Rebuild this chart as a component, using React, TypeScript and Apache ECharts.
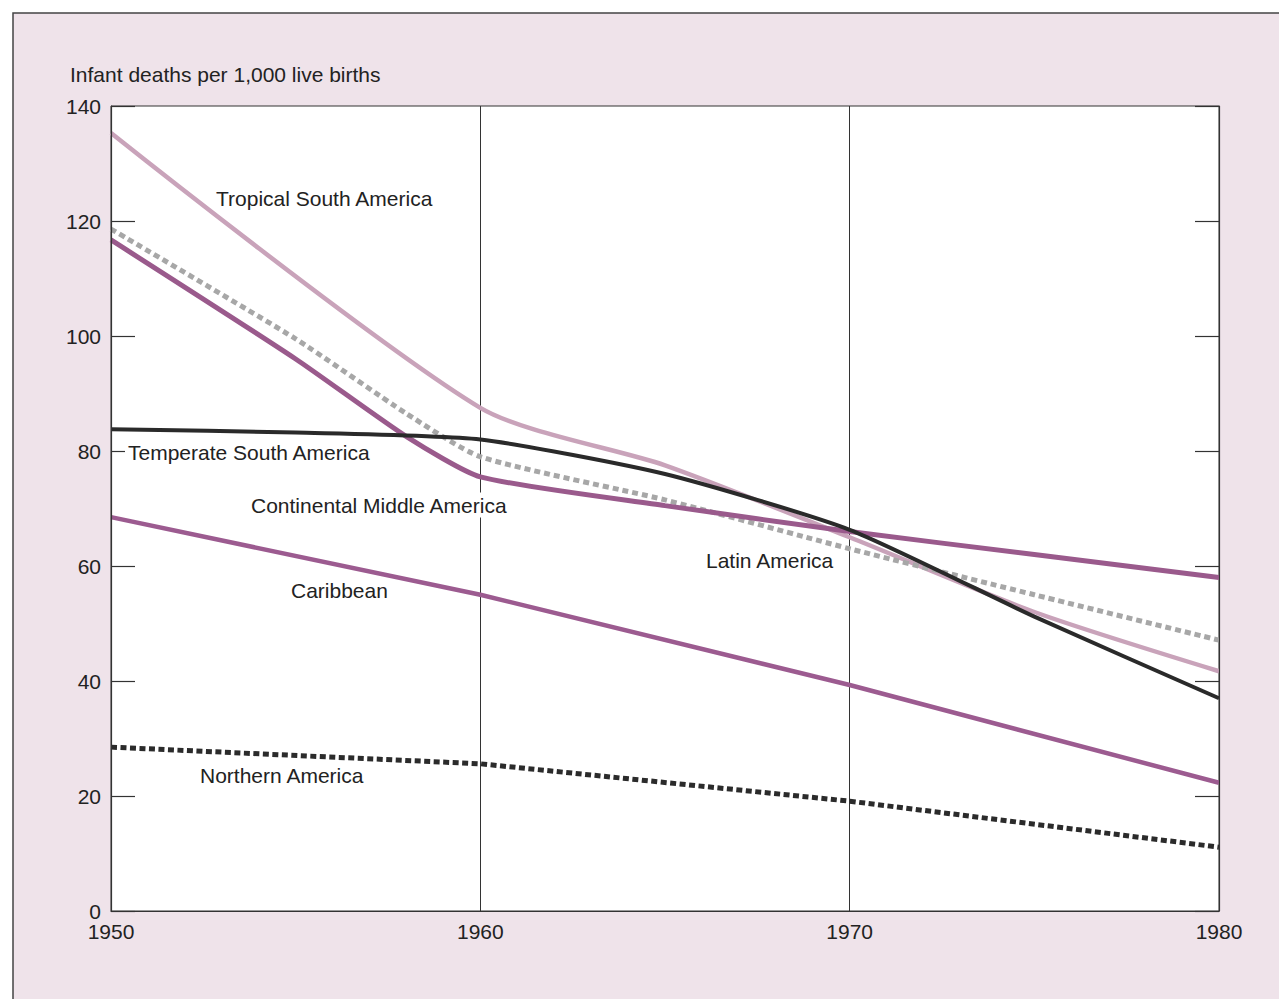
import React, { useEffect, useRef } from "react";
import * as echarts from "echarts";

const FONT = '"Liberation Sans", Arial, Helvetica, sans-serif';

const yTicks = [0, 20, 40, 60, 80, 100, 120, 140];
const xTicks = [1950, 1960, 1970, 1980];

const tropicalYears = [1950, 1960, 1965, 1970, 1975, 1980];
const tropicalValues = [135.3, 87.5, 77.5, 65, 52, 41.7];

const latinYears = [1950, 1955, 1958, 1960, 1965, 1970, 1975, 1980];
const latinValues = [118.6, 99.5, 86.5, 79, 71.5, 63, 55, 47.1];

const cmaYears = [1950, 1955, 1958, 1960, 1965, 1970, 1975, 1980];
const cmaValues = [116.7, 96, 82.5, 75.5, 70.5, 66, 62, 58];

const temperateYears = [1950, 1955, 1960, 1965, 1970, 1975, 1980];
const temperateValues = [83.8, 83.2, 82, 76, 66.3, 51.2, 37];

const caribbeanYears = [1950, 1960, 1970, 1980];
const caribbeanValues = [68.5, 55, 39.3, 22.3];

const northernYears = [1950, 1960, 1970, 1980];
const northernValues = [28.5, 25.6, 19.1, 11.1];

const title = "Infant deaths per 1,000 live births";

const zip = (xs: number[], ys: number[]) => xs.map((x, i) => [x, ys[i]]);

export default function App() {
  const ref = useRef<HTMLDivElement>(null);
  useEffect(() => {
    document.body.style.margin = "0";
    const chart = echarts.init(ref.current!, null, { renderer: "svg" });
    const labelText = (text: string, x: number, y: number, extra: any = {}) => ({
      type: "text",
      x,
      y,
      z: 100,
      style: {
        text,
        fill: "#222",
        font: `21px ${FONT}`,
        textVerticalAlign: "middle",
        ...extra,
      },
    });
    const line = (name: string, data: number[][], color: string, width: number, dash?: number[], smooth = 0.2) => ({
      name,
      type: "line",
      data,
      symbol: "none",
      smooth,
      lineStyle: { color, width, type: dash ? dash : "solid", cap: "butt" },
      z: 3,
    });
    const tickAxis = {
      type: "value",
      min: yTicks[0],
      max: yTicks[yTicks.length - 1],
      interval: 20,
      z: 10,
      axisLine: { show: true, lineStyle: { color: "#333", width: 1.2 } },
      axisTick: { show: true, inside: true, length: 24, lineStyle: { color: "#333", width: 1.2 } },
      splitLine: { show: false },
    };
    chart.setOption({
      animation: false,
      backgroundColor: "#ffffff",
      textStyle: { fontFamily: FONT },
      grid: {
        left: 111,
        top: 106,
        right: 60,
        bottom: 88,
        show: true,
        backgroundColor: "#ffffff",
        borderColor: "#333",
        borderWidth: 1,
      },
      xAxis: {
        type: "value",
        min: xTicks[0],
        max: xTicks[xTicks.length - 1],
        interval: 10,
        axisLine: { show: true, lineStyle: { color: "#333", width: 1.2 } },
        axisTick: { show: false },
        splitLine: { show: true, lineStyle: { color: "#333", width: 1 } },
        axisLabel: {
          color: "#222",
          fontSize: 21,
          fontFamily: FONT,
          margin: 10,
          formatter: (v: number) => String(v),
        },
      },
      yAxis: [
        {
          ...tickAxis,
          axisLabel: { color: "#222", fontSize: 21, fontFamily: FONT, margin: 10 },
        },
        {
          ...tickAxis,
          position: "right",
          axisLabel: { show: false },
        },
      ],
      series: [
        line("Tropical South America", zip(tropicalYears, tropicalValues), "#c9a3ba", 4.5, undefined, 0.25),
        line("Latin America", zip(latinYears, latinValues), "#a7a7a7", 5, [6, 4]),
        line("Continental Middle America", zip(cmaYears, cmaValues), "#9a5a8c", 5),
        line("Caribbean", zip(caribbeanYears, caribbeanValues), "#9c5b90", 4.5, undefined, 0),
        line("Temperate South America", zip(temperateYears, temperateValues), "#2a2a2a", 4),
        line("Northern America", zip(northernYears, northernValues), "#2b2b2b", 5, [6, 3.5], 0),
      ],
      graphic: [
        {
          type: "rect",
          z: -100,
          silent: true,
          shape: { x: 13, y: 13, width: 1300, height: 1020 },
          style: { fill: "#efe3ea", stroke: "#444", lineWidth: 1.5 },
        },
        labelText(title, 70, 74),
        labelText("Tropical South America", 216, 198),
        labelText("Temperate South America", 125, 452, { backgroundColor: "#ffffff", padding: [0, 0, 0, 3] }),
        labelText("Continental Middle America", 251, 505, { backgroundColor: "#ffffff", padding: [2, 0, 2, 0] }),
        labelText("Caribbean", 291, 590),
        labelText("Latin America", 706, 560),
        labelText("Northern America", 200, 775),
      ],
    });
    return () => chart.dispose();
  }, []);
  return <div ref={ref} style={{ width: 1279, height: 999 }} />;
}
